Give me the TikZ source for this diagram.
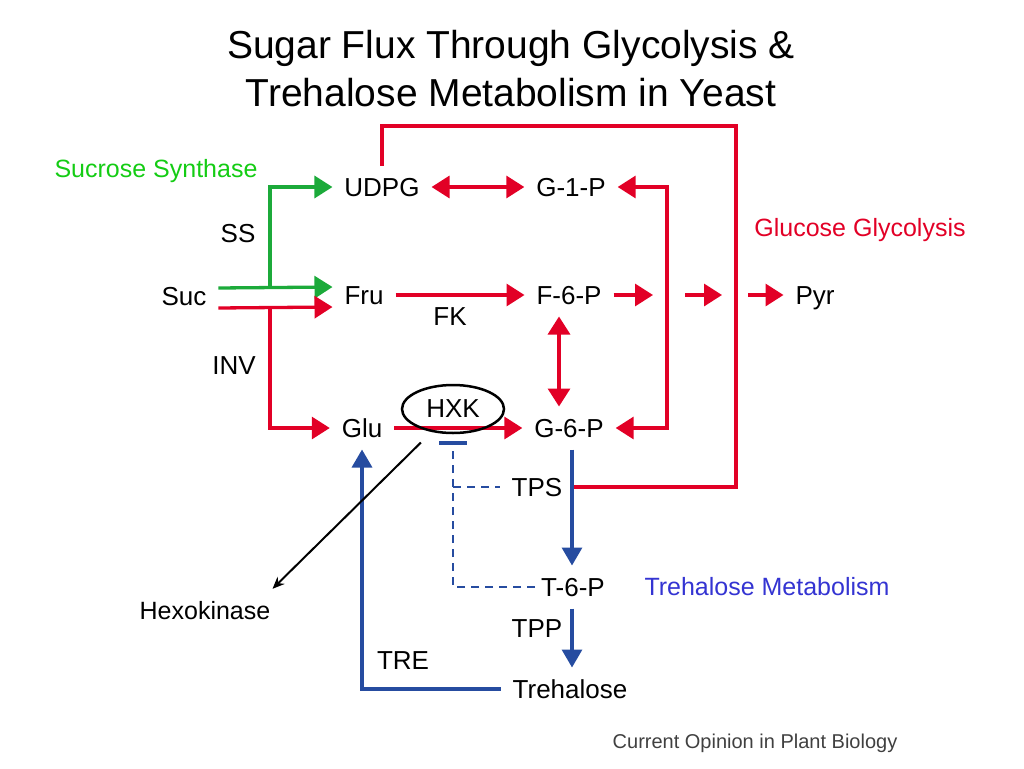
\documentclass[tikz,border=0pt]{standalone}
\usepackage{fontspec}
\setmainfont{Liberation Sans}
\usetikzlibrary{arrows.meta,shapes.geometric}
\definecolor{glyred}{RGB}{226,0,38}
\definecolor{ssgreen}{RGB}{28,170,58}
\definecolor{ssgreentext}{RGB}{20,204,20}
\definecolor{trehblue}{RGB}{38,76,160}
\definecolor{trehbluetext}{RGB}{52,52,210}
\tikzset{bigtip/.tip={Triangle[length=18pt,width=22pt]}}
\begin{document}
\begin{tikzpicture}[x=1pt,y=-1pt,
    met/.style={font=\fontsize{26}{28}\selectfont,inner sep=0pt,outer sep=12pt,text height=19pt,text depth=0pt},
    note/.style={font=\fontsize{25}{27}\selectfont,inner sep=0pt,text height=18pt,text depth=0pt},
    redline/.style={glyred,line width=3.3pt},
    redarr/.style={redline,-bigtip},
    grnarr/.style={ssgreen,line width=3.3pt,-bigtip},
    bluarr/.style={trehblue,line width=3.3pt,-{Triangle[length=18pt,width=20pt]}},
    inhib/.style={trehblue,line width=2.8pt,dash pattern=on 8pt off 6pt}]
    \useasboundingbox (0,0) rectangle (1024,768);
    \node[note,font=\fontsize{39}{41}\selectfont,text height=28pt] (title1) at (511,45) {Sugar Flux Through Glycolysis \&};
    \node[note,font=\fontsize{39}{41}\selectfont,text height=28pt] (title2) at (511,92) {Trehalose Metabolism in Yeast};
    \node[note,ssgreentext] (sslabel) at (156,168) {Sucrose Synthase};
    \node[note,glyred] (glylabel) at (860,227) {Glucose Glycolysis};
    \node[note,trehbluetext] (trehlabel) at (767,586) {Trehalose Metabolism};
    \node[note] (hexo) at (205,610) {Hexokinase};
    \node[note,font=\fontsize{20}{22}\selectfont,text height=14pt,black!75] (source) at (755,741) {Current Opinion in Plant Biology};
    \node[met] (suc) at (184,296) {Suc};
    \node[met] (udpg) at (382,187) {UDPG};
    \node[met] (g1p) at (571,187) {G-1-P};
    \node[met] (fru) at (364,295) {Fru};
    \node[met] (f6p) at (569,295) {F-6-P};
    \node[met] (pyr) at (815,295) {Pyr};
    \node[met] (glu) at (362,428) {Glu};
    \node[met] (g6p) at (569,428) {G-6-P};
    \node[met] (t6p) at (573,587) {T-6-P};
    \node[met] (treh) at (570,689) {Trehalose};
    \node[met] (ss) at (238,233) {SS};
    \node[met] (inv) at (234,365) {INV};
    \node[met] (fk) at (450,316) {FK};
    \node[met] (tps) at (537,487) {TPS};
    \node[met] (tpp) at (537,628) {TPP};
    \node[met] (tre) at (403,660) {TRE};
    \coordinate (ssfork) at (270,287);
    \coordinate (invfork) at (270,307);
    \coordinate (outertop) at (736,126);
    \coordinate (tpsjoin) at (572,487);
    \coordinate (loopbottom) at (667,428);
    \coordinate (step1) at (653,295);
    \coordinate (step2a) at (685,295);
    \coordinate (step2b) at (722,295);
    \coordinate (step3) at (748,295);
    \draw[grnarr] ([yshift=8pt]suc.east) -- ([yshift=8pt]fru.west);
    \draw[grnarr] (ssfork) |- (udpg.west);
    \draw[redarr] ([yshift=-12pt]suc.east) -- ([yshift=-12pt]fru.west);
    \draw[redarr] (invfork) |- (glu.west);
    \draw[redline] (udpg.north) |- (outertop) |- (tpsjoin);
    \draw[redline,bigtip-bigtip] (udpg) -- (g1p);
    \draw[redarr] (fru) -- (f6p);
    \draw[redline,bigtip-bigtip] ([xshift=-10pt]f6p.south) -- ([xshift=-10pt]g6p.north);
    \draw[redline,bigtip-bigtip] (g1p.east) -| (loopbottom) -- (g6p.east);
    \draw[redarr] (f6p.east) -- (step1);
    \draw[redarr] (step2a) -- (step2b);
    \draw[redarr] (step3) -- (pyr.west);
    \draw[redarr] (glu) -- (g6p);
    \node[ellipse,draw,line width=2.5pt,minimum width=102pt,minimum height=48pt,font=\fontsize{26}{28}\selectfont,inner sep=0pt] (hxk) at (453,409) {HXK};
    \draw[bluarr] (tpsjoin |- g6p.south) -- (tpsjoin |- t6p.north);
    \draw[bluarr] (t6p.south -| tpsjoin) -- (treh.north -| tpsjoin);
    \draw[bluarr] (treh.west) -| (glu.south);
    \draw[inhib,-{Bar[width=28pt,line width=3.3pt]}] ([xshift=6pt]t6p.west) -| ([yshift=-7pt]hxk.south);
    \draw[inhib] (hxk.south |- tps) -- (tps.west);
    \draw[line width=2pt,-{Stealth[length=12pt,width=10pt]},shorten <=15pt] (hxk.-133) -- ([xshift=2pt,yshift=12pt]hexo.north east);
\end{tikzpicture}
\end{document}
